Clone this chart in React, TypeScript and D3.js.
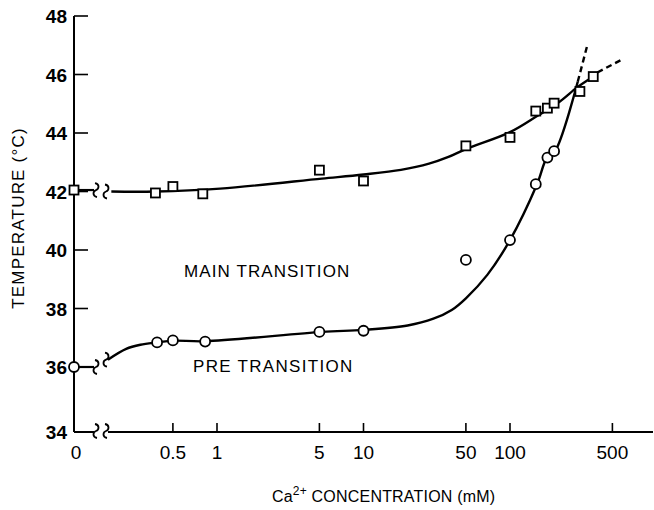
import React from 'react'
import * as d3 from 'd3'

// axis ticks
const xTicks = [0.5, 1, 5, 10, 50, 100, 500]
const yTicks = [34, 36, 38, 40, 42, 44, 46, 48]

// measured points (Ca2+ mM, temperature °C)
const mainConc = [0, 0.38, 0.5, 0.8, 5, 10, 50, 100, 150, 180, 200, 300, 370]
const mainTemp = [42.05, 41.95, 42.17, 41.92, 42.73, 42.36, 43.56, 43.85, 44.75, 44.85, 45.02, 45.42, 45.93]

const preConc = [0, 0.39, 0.5, 0.83, 5, 10, 50, 100, 150, 180, 200]
const preTemp = [36.0, 36.84, 36.91, 36.87, 37.2, 37.24, 39.66, 40.34, 42.25, 43.16, 43.38]

// hand drawn curves through the points
const mainFitConc = [0.19, 0.38, 1.05, 5.2, 10, 18, 28, 38, 50, 100, 153, 219, 287, 362]
const mainFitTemp = [42.0, 42.0, 42.1, 42.44, 42.58, 42.74, 42.95, 43.18, 43.45, 44.03, 44.58, 45.08, 45.56, 45.9]
const mainDashConc = [395, 580]
const mainDashTemp = [46.07, 46.51]

const preFitConc = [0.18, 0.24, 0.3, 0.39, 0.5, 0.83, 5.2, 10, 20, 30, 40, 50, 70, 100, 153, 179, 203, 290]
const preFitTemp = [36.25, 36.62, 36.76, 36.84, 36.9, 36.88, 37.2, 37.27, 37.42, 37.65, 37.95, 38.35, 39.15, 40.34, 42.25, 43.16, 43.38, 45.75]
const preDashConc = [290, 335]
const preDashTemp = [45.75, 46.95]

const width = 654
const height = 510
const x0 = 74 // position of the "0" concentration (on the y axis)
const xAxisRight = 653
const breakA = 96
const breakB = 106

const font = '"Liberation Sans", Arial, sans-serif'

const xLog = d3.scaleLog().domain([1, 100]).range([217, 510])
const xPos = (c: number) => (c === 0 ? x0 : xLog(c))
const y = d3.scaleLinear().domain([34, 36, 48]).range([432, 367, 16])

const zip = (a: number[], b: number[]): [number, number][] => a.map((v, i) => [v, b[i]])

const line = d3
  .line<[number, number]>()
  .x(d => xPos(d[0]))
  .y(d => y(d[1]))
  .curve(d3.curveCatmullRom.alpha(0.5))

const squiggle = (cx: number, cy: number) =>
  `M${cx - 1},${cy - 7} C${cx + 4},${cy - 6} ${cx + 3},${cy - 1} ${cx},${cy} C${cx - 3},${cy + 1} ${cx - 4},${cy + 6} ${cx + 1},${cy + 7}`

const App = () => {
  const yAxisBottom = y(34)
  const mainStub = y(mainTemp[0])
  const preStub = y(preTemp[0])
  const mainStart = y(mainFitTemp[0])
  const preStart = y(preFitTemp[0])

  return (
    <div style={{ position: 'absolute', left: 0, top: 0 }}>
      <svg width={width} height={height} style={{ display: 'block', background: '#fff' }}>
        {/* y axis */}
        <line x1={x0} x2={x0} y1={y(48)} y2={yAxisBottom} stroke="#000" strokeWidth={2} />
        {yTicks.map(t => (
          <g key={t}>
            {t > 34 && <line x1={x0} x2={x0 + 14} y1={y(t)} y2={y(t)} stroke="#000" strokeWidth={1.6} />}
            <text
              x={67}
              y={y(t) + 7}
              textAnchor="end"
              fontFamily={font}
              fontWeight="bold"
              fontSize={19}
            >
              {t}
            </text>
          </g>
        ))}
        <text
          transform={`translate(24, 218) rotate(-90)`}
          textAnchor="middle"
          fontFamily={font}
          fontSize={17}
          letterSpacing={1.2}
        >
          TEMPERATURE (°C)
        </text>

        {/* x axis with break */}
        <line x1={x0} x2={breakA - 2} y1={yAxisBottom} y2={yAxisBottom} stroke="#000" strokeWidth={2} />
        <line x1={breakB + 2} x2={xAxisRight} y1={yAxisBottom} y2={yAxisBottom} stroke="#000" strokeWidth={2} />
        <path d={squiggle(breakA, yAxisBottom - 1)} fill="none" stroke="#000" strokeWidth={1.8} />
        <path d={squiggle(breakB, yAxisBottom - 1)} fill="none" stroke="#000" strokeWidth={1.8} />
        {xTicks.map(t => (
          <g key={t}>
            <line x1={xLog(t)} x2={xLog(t)} y1={yAxisBottom} y2={yAxisBottom - 9} stroke="#000" strokeWidth={1.6} />
            <text x={xLog(t)} y={459} textAnchor="middle" fontFamily={font} fontSize={19}>
              {t}
            </text>
          </g>
        ))}
        <text x={x0 + 2} y={459} textAnchor="middle" fontFamily={font} fontSize={19}>
          0
        </text>
        <text x={272} y={502} fontFamily={font} fontSize={16} letterSpacing={0.2}>
          Ca
          <tspan dy={-7} fontSize={12}>
            2+
          </tspan>
          <tspan dy={7}> CONCENTRATION (mM)</tspan>
        </text>

        {/* main transition */}
        <line x1={x0} x2={breakA - 2} y1={mainStub} y2={mainStub} stroke="#000" strokeWidth={2.2} />
        <path d={squiggle(breakA, mainStub)} fill="none" stroke="#000" strokeWidth={1.8} />
        <path d={squiggle(breakB, mainStart)} fill="none" stroke="#000" strokeWidth={1.8} />
        <path d={line(zip(mainFitConc, mainFitTemp)) || ''} fill="none" stroke="#000" strokeWidth={2.4} />
        <path
          d={line(zip(mainDashConc, mainDashTemp)) || ''}
          fill="none"
          stroke="#000"
          strokeWidth={2.4}
          strokeDasharray="6 4"
        />

        {/* pre transition */}
        <line x1={x0} x2={breakA - 2} y1={preStub} y2={preStub} stroke="#000" strokeWidth={2.2} />
        <path d={squiggle(breakA, preStub)} fill="none" stroke="#000" strokeWidth={1.8} />
        <path d={squiggle(breakB, preStart)} fill="none" stroke="#000" strokeWidth={1.8} />
        <path d={line(zip(preFitConc, preFitTemp)) || ''} fill="none" stroke="#000" strokeWidth={2.4} />
        <path
          d={line(zip(preDashConc, preDashTemp)) || ''}
          fill="none"
          stroke="#000"
          strokeWidth={2.4}
          strokeDasharray="6 4"
        />

        {mainConc.map((c, i) => (
          <rect
            key={'m' + i}
            x={xPos(c) - 4.5}
            y={y(mainTemp[i]) - 4.5}
            width={9}
            height={9}
            fill="#fff"
            stroke="#000"
            strokeWidth={1.8}
          />
        ))}
        {preConc.map((c, i) => (
          <circle key={'p' + i} cx={xPos(c)} cy={y(preTemp[i])} r={5} fill="#fff" stroke="#000" strokeWidth={1.8} />
        ))}

        <text x={184} y={277} fontFamily={font} fontSize={17} letterSpacing={1.1}>
          MAIN TRANSITION
        </text>
        <text x={193} y={372} fontFamily={font} fontSize={17} letterSpacing={1.3}>
          PRE TRANSITION
        </text>
      </svg>
    </div>
  )
}

export default App
